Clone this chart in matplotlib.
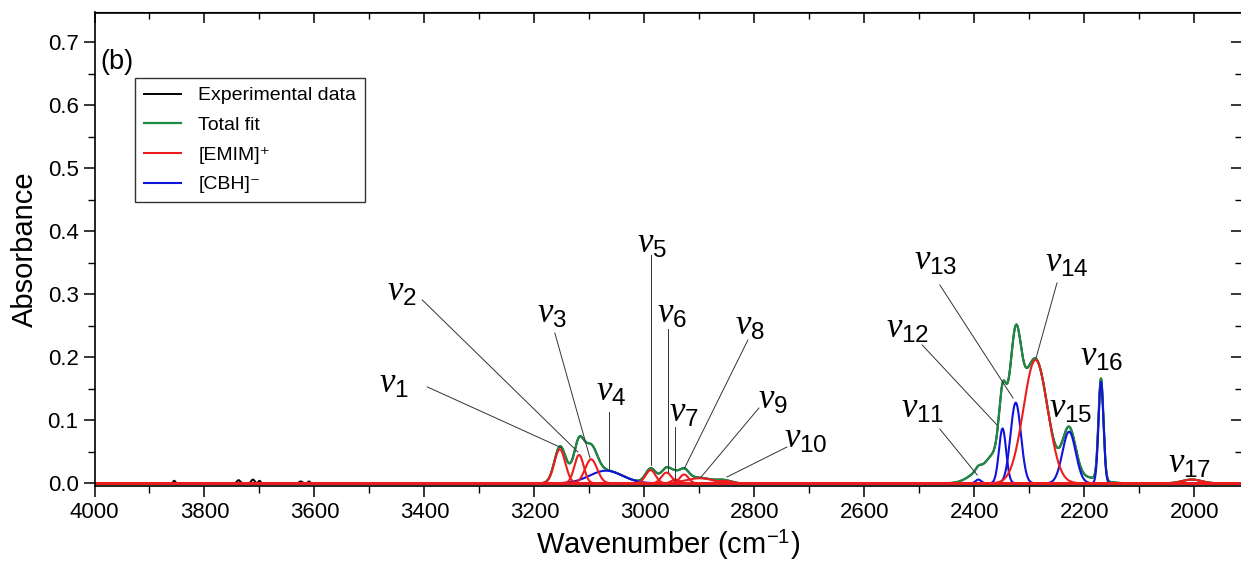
import numpy as np
import matplotlib
matplotlib.use("Agg")
import matplotlib.pyplot as plt
from matplotlib.ticker import MultipleLocator, FormatStrFormatter

plt.rcParams["font.family"] = ["Liberation Sans", "DejaVu Sans"]
plt.rcParams["mathtext.fontset"] = "custom"
plt.rcParams["mathtext.rm"] = "Liberation Sans"
plt.rcParams["mathtext.it"] = "Liberation Serif:italic"

# fitted bands: center (cm-1), height, gaussian sigma (cm-1)
emim_center = [3154, 3119, 3097, 2989, 2960, 2944, 2928, 2900, 2855, 2289, 2005]
emim_height = [0.054, 0.045, 0.038, 0.021, 0.017, 0.006, 0.014, 0.008, 0.004, 0.196, 0.006]
emim_sigma = [10, 8.5, 11, 9, 9, 7, 8, 25, 12, 22, 17]

cbh_center = [3070, 2393, 2349, 2325, 2228, 2170]
cbh_height = [0.020, 0.006, 0.087, 0.128, 0.082, 0.161]
cbh_sigma = [30, 5, 6.5, 9.5, 12, 4.5]

# unassigned bands, only in the total fit
other_center = [3120, 2950, 2390, 2365, 2332, 2195]
other_height = [0.018, 0.008, 0.018, 0.03, 0.078, 0.009]
other_sigma = [20, 25, 20, 14, 16, 25]

# small atmospheric features in the measured spectrum
noise_center = [3855, 3738, 3712, 3700, 3625, 3610]
noise_height = [0.004, 0.005, 0.006, 0.004, 0.003, 0.003]
noise_sigma = [2, 3, 3, 2, 3, 2]

# band labels: text position and leader line (start -> end)
band_names = [str(i) for i in range(1, 18)]
label_x = [3455, 3441, 3168, 3061, 2986, 2950, 2928, 2808, 2766, 2706, 2494, 2521, 2470, 2232, 2225, 2168, 2008]
label_y = [0.159, 0.305, 0.270, 0.1465, 0.380, 0.270, 0.1116, 0.2497, 0.1338, 0.0719, 0.118, 0.245, 0.3544, 0.351, 0.1195, 0.2005, 0.032]
line_x0 = [3395, 3404, 3163, 3064.5, 2988, 2957, 2944.5, 2812, 2792, 2741, 2463, 2495, 2463, 2250, None, None, None]
line_y0 = [0.153, 0.291, 0.2386, 0.1132, 0.3624, 0.245, 0.0894, 0.2275, 0.1195, 0.0576, 0.0862, 0.2195, 0.3148, 0.318, None, None, None]
line_x1 = [3150, 3121, 3099, 3064.5, 2988, 2957, 2944.5, 2928, 2897, 2850, 2395, 2359, 2330, 2288, None, None, None]
line_y1 = [0.056, 0.0497, 0.040, 0.0243, 0.0291, 0.0179, 0.0052, 0.0227, 0.010, 0.010, 0.0132, 0.0925, 0.1354, 0.199, None, None, None]

RED = "#ee1c1c"
BLUE = "#1212dd"
GREEN = "#1e8a46"


def gauss(x, c, h, s):
    return h * np.exp(-0.5 * ((x - c) / s) ** 2)


wn = np.linspace(4000, 1900, 4201)
emim = [gauss(wn, c, h, s) for c, h, s in zip(emim_center, emim_height, emim_sigma)]
cbh = [gauss(wn, c, h, s) for c, h, s in zip(cbh_center, cbh_height, cbh_sigma)]
other = [gauss(wn, c, h, s) for c, h, s in zip(other_center, other_height, other_sigma)]
total = np.sum(emim, axis=0) + np.sum(cbh, axis=0) + np.sum(other, axis=0)
noise = np.sum([gauss(wn, c, h, s) for c, h, s in zip(noise_center, noise_height, noise_sigma)], axis=0)
experimental = total + noise

fig = plt.figure(figsize=(12.41, 5.65), dpi=100)
ax = fig.add_axes([94.5 / 1241, 1 - 485.7 / 565, (1242 - 94.5) / 1241, (485.7 - 12.5) / 565])

ax.plot(wn, experimental, color="black", lw=1.4, label="Experimental data")
ax.plot(wn, total, color=GREEN, lw=1.6, label="Total fit")
for i, comp in enumerate(cbh):
    ax.plot(wn, comp, color=BLUE, lw=1.5, label="[CBH]\u207b" if i == 0 else None)
for i, comp in enumerate(emim):
    ax.plot(wn, comp, color=RED, lw=1.5, label="[EMIM]\u207a" if i == 0 else None)

for i, name in enumerate(band_names):
    ax.text(label_x[i], label_y[i], r"$\nu_{%s}$" % name, fontsize=25,
            ha="center", va="center")
    if line_x0[i] is not None:
        ax.plot([line_x0[i], line_x1[i]], [line_y0[i], line_y1[i]],
                color="#333333", lw=0.7)

ax.set_xlim(4000, 1913.6)
ax.set_ylim(-0.0038, 0.7473)
ax.xaxis.set_major_locator(MultipleLocator(200))
ax.xaxis.set_minor_locator(MultipleLocator(100))
ax.yaxis.set_major_locator(MultipleLocator(0.1))
ax.yaxis.set_minor_locator(MultipleLocator(0.05))
ax.yaxis.set_major_formatter(FormatStrFormatter("%.1f"))
ax.tick_params(which="major", direction="out", length=8, width=1.1, labelsize=16)
ax.tick_params(which="minor", direction="out", length=5, width=1.0)

top = ax.secondary_xaxis("top")
top.xaxis.set_major_locator(MultipleLocator(200))
top.xaxis.set_minor_locator(MultipleLocator(100))
top.tick_params(which="major", direction="in", length=8, width=1.1, labeltop=False)
top.tick_params(which="minor", direction="in", length=5, width=1.0)
right = ax.secondary_yaxis("right")
right.yaxis.set_major_locator(MultipleLocator(0.1))
right.yaxis.set_minor_locator(MultipleLocator(0.05))
right.tick_params(which="major", direction="in", length=8, width=1.1, labelright=False)
right.tick_params(which="minor", direction="in", length=5, width=1.0)

for sp in ax.spines.values():
    sp.set_linewidth(1.2)

ax.set_xlabel("Wavenumber (cm$^{-1}$)", fontsize=21, labelpad=4)
ax.set_ylabel("Absorbance", fontsize=21, labelpad=6)

handles, labels = ax.get_legend_handles_labels()
order = [labels.index(s) for s in ["Experimental data", "Total fit", "[EMIM]\u207a", "[CBH]\u207b"]]
leg = ax.legend([handles[k] for k in order], [labels[k] for k in order],
                loc="upper left", bbox_to_anchor=(135 / 1241, 1 - 78 / 565),
                bbox_transform=fig.transFigure, fontsize=14, frameon=True,
                fancybox=False, edgecolor="black", borderaxespad=0,
                handlelength=1.9, handletextpad=0.9, labelspacing=0.62,
                borderpad=0.45)
leg.get_frame().set_linewidth(1.0)

fig.text(100 / 1241, 1 - 62 / 565, "(b)", fontsize=19.5, ha="left", va="center")

fig.savefig("out.png", dpi=100)
